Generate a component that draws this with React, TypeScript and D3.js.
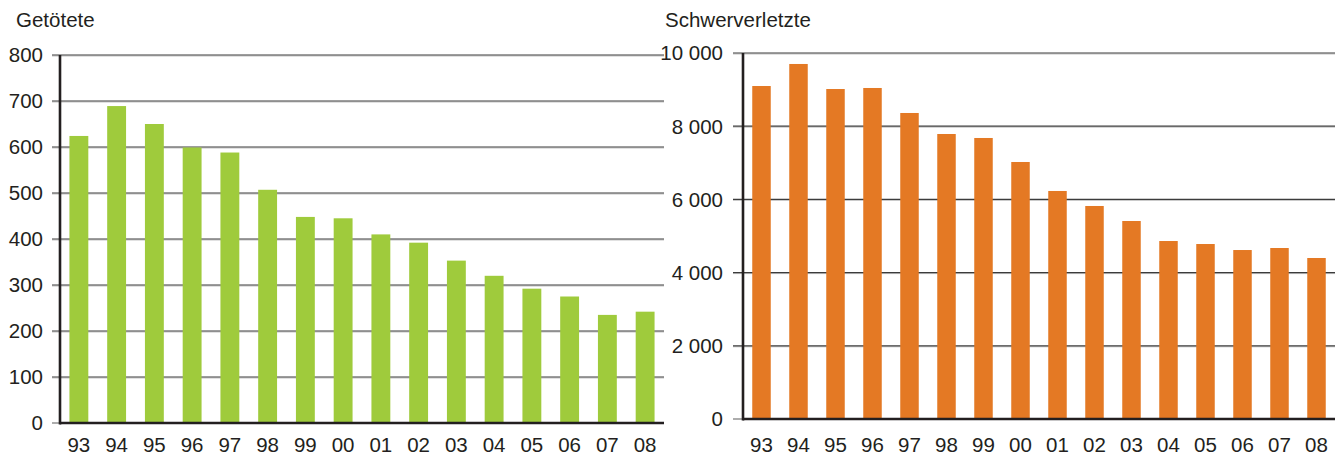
import React from "react";
import * as d3 from "d3";

const years = ["93","94","95","96","97","98","99","00","01","02","03","04","05","06","07","08"];
const getoetete = [624, 689, 650, 599, 588, 507, 448, 445, 410, 392, 353, 320, 292, 275, 235, 242];
const schwerverletzte = [9098, 9700, 9016, 9044, 8361, 7787, 7678, 7022, 6230, 5820, 5410, 4863, 4781, 4617, 4672, 4399];
const leftTicks = [0, 100, 200, 300, 400, 500, 600, 700, 800];
const rightTicks = [0, 2000, 4000, 6000, 8000, 10000];
const leftTitle = "Getötete";
const rightTitle = "Schwerverletzte";

const FONT = "'Liberation Sans', Arial, sans-serif";
const TXT = "#231f20";

function fmt(v: number) {
  const s = String(v);
  return s.replace(/\B(?=(\d{3})+(?!\d))/g, " ");
}

type PanelProps = {
  values: number[];
  ticks: number[];
  max: number;
  x0: number;
  x1: number;
  yTop: number;
  yBot: number;
  color: string;
  title: string;
  titleX: number;
  tickLeft: number;
  labelRight: number;
};

function Panel(p: PanelProps) {
  const x = d3.scaleBand<string>().domain(years).range([p.x0, p.x1]).paddingInner(0.5).paddingOuter(0.25);
  const y = d3.scaleLinear().domain([0, p.max]).range([p.yBot, p.yTop]);
  return (
    <g>
      <text x={p.titleX} y={27} fontFamily={FONT} fontSize={20.5} fill={TXT}>{p.title}</text>
      {p.ticks.map((t) => (
        <g key={t}>
          {t > 0 && (
            <>
              <line x1={p.tickLeft} x2={p.x1} y1={y(t) + 1} y2={y(t) + 1} stroke="#c4c4c4" strokeWidth={1} />
              <line x1={p.tickLeft} x2={p.x1} y1={y(t)} y2={y(t)} stroke="#3c3c3c" strokeWidth={1.2} />
            </>
          )}
          {t === 0 && (
            <line x1={p.tickLeft} x2={p.x0} y1={y(t)} y2={y(t)} stroke="#777" strokeWidth={1.2} />
          )}
          <text x={p.labelRight} y={y(t)} dy="0.36em" textAnchor="end" fontFamily={FONT} fontSize={20.5} fill={TXT}>
            {fmt(t)}
          </text>
        </g>
      ))}
      {p.values.map((v, i) => (
        <rect key={years[i]} x={x(years[i])!} width={x.bandwidth()} y={y(v)} height={y(0) - y(v)} fill={p.color} />
      ))}
      <line x1={p.x0} x2={p.x0} y1={p.yTop} y2={p.yBot + 1.5} stroke={TXT} strokeWidth={2.6} />
      <line x1={p.x0} x2={p.x1} y1={p.yBot} y2={p.yBot} stroke={TXT} strokeWidth={2.6} />
      {years.map((yr) => (
        <text key={yr} x={x(yr)! + x.bandwidth() / 2} y={452} textAnchor="middle" fontFamily={FONT} fontSize={20.5} fill={TXT}>
          {yr}
        </text>
      ))}
    </g>
  );
}

export default function App() {
  return (
    <svg width={1343} height={459} style={{ position: "absolute", left: 0, top: 0, background: "#fff" }}>
      <rect width={1343} height={459} fill="#fff" />
      <Panel values={getoetete} ticks={leftTicks} max={800} x0={60} x1={664} yTop={55} yBot={423}
        color="#9fcb3c" title={leftTitle} titleX={16} tickLeft={52} labelRight={43} />
      <Panel values={schwerverletzte} ticks={rightTicks} max={10000} x0={743} x1={1335} yTop={53} yBot={419}
        color="#e47924" title={rightTitle} titleX={665} tickLeft={733} labelRight={723} />
    </svg>
  );
}
